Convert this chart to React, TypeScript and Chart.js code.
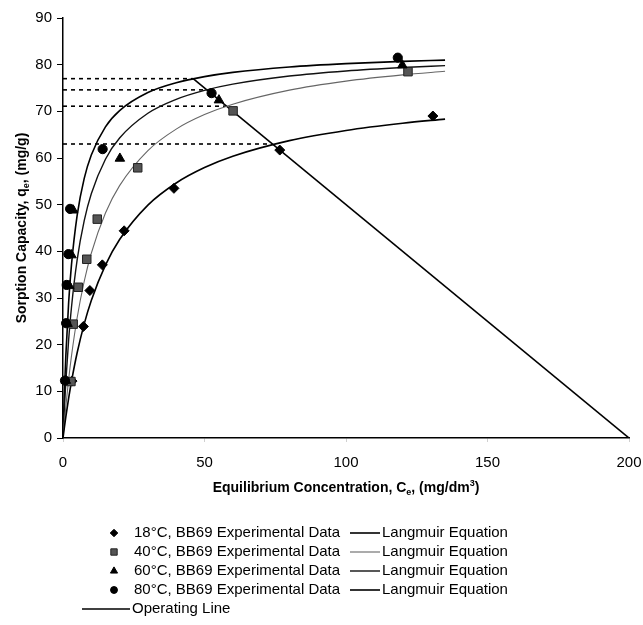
import React, { useEffect, useRef } from 'react';
import { Chart, registerables } from 'chart.js';

Chart.register(...registerables);

const FONT = '"Liberation Sans", Arial, Helvetica, sans-serif';

// Axis ranges / ticks
const xMin = 0;
const xMax = 200;
const xStep = 50;
const yMin = 0;
const yMax = 90;
const yStep = 10;

// Langmuir model curves (C in mg/dm3, q in mg/g)
const curveC = [0, 0.5, 1, 2, 3, 5, 7.5, 10, 15, 20, 30, 40, 50, 60, 80, 100, 120, 135];
const lang18 = [0, 2.33, 4.51, 8.53, 12.11, 18.26, 24.46, 29.47, 37.06, 42.53, 49.91, 54.65, 57.95, 60.38, 63.72, 65.91, 67.45, 68.34];
const lang40 = [0, 3.54, 6.8, 12.59, 17.59, 25.77, 33.59, 39.59, 48.2, 54.08, 61.59, 66.19, 69.3, 71.53, 74.54, 76.47, 77.81, 78.58];
const lang60 = [0, 6.49, 12.04, 21.04, 28.02, 38.15, 46.56, 52.33, 59.74, 64.28, 69.58, 72.57, 74.49, 75.82, 77.56, 78.65, 79.39, 79.8];
const lang80 = [0, 9.86, 17.64, 29.1, 37.16, 47.72, 55.63, 60.65, 66.68, 70.16, 74.03, 76.13, 77.44, 78.35, 79.51, 80.22, 80.7, 80.97];

// Experimental data
const exp18C = [3.2, 7.2, 9.5, 13.9, 21.6, 39.2, 76.6, 130.7];
const exp18Q = [12.2, 23.9, 31.6, 37.1, 44.4, 53.5, 61.7, 69.0];
const exp40C = [2.8, 3.6, 5.4, 8.4, 12.1, 26.4, 60.1, 121.9];
const exp40Q = [12.1, 24.4, 32.3, 38.3, 46.9, 57.9, 70.1, 78.5];
const exp60C = [1.0, 1.6, 2.2, 3.0, 3.6, 20.1, 55.1, 119.9];
const exp60Q = [12.3, 24.5, 32.6, 39.2, 48.8, 59.9, 72.4, 79.9];
const exp80C = [0.7, 1.1, 1.3, 1.9, 2.5, 14.0, 52.5, 118.3];
const exp80Q = [12.3, 24.6, 32.8, 39.4, 49.1, 61.9, 73.9, 81.5];

// Operating line and dashed read-off levels
const opLineC = [46, 200];
const opLineQ = [77.0, 0];
const dashLevelQ = [77.0, 74.6, 71.1, 63.0];
const dashEndC = [46, 50.8, 57.8, 74.0];

// Legend texts
const expLabels = [
  '18°C, BB69 Experimental Data',
  '40°C, BB69 Experimental Data',
  '60°C, BB69 Experimental Data',
  '80°C, BB69 Experimental Data',
];
const modelLabel = 'Langmuir Equation';
const opLabel = 'Operating Line';

const pts = (xs: number[], ys: number[]) => xs.map((x, i) => ({ x, y: ys[i] }));

const seriesStyle = [
  { marker: 'rectRot', radius: 5, fill: '#000', stroke: '#000', line: '#000', lw: 1.6 },
  { marker: 'rect', radius: 6, fill: '#555', stroke: '#222', line: '#666', lw: 1.1 },
  { marker: 'triangle', radius: 5.5, fill: '#000', stroke: '#000', line: '#111', lw: 1.4 },
  { marker: 'circle', radius: 4.6, fill: '#000', stroke: '#000', line: '#000', lw: 1.6 },
];

function drawMarker(ctx: CanvasRenderingContext2D, style: string, x: number, y: number, r: number, fill: string, stroke: string) {
  ctx.save();
  ctx.fillStyle = fill;
  ctx.strokeStyle = stroke;
  ctx.lineWidth = 1;
  ctx.beginPath();
  if (style === 'rectRot') {
    ctx.moveTo(x, y - r);
    ctx.lineTo(x + r, y);
    ctx.lineTo(x, y + r);
    ctx.lineTo(x - r, y);
    ctx.closePath();
  } else if (style === 'rect') {
    const s = r * Math.SQRT1_2;
    ctx.rect(x - s, y - s, 2 * s, 2 * s);
  } else if (style === 'triangle') {
    for (let i = 0; i < 3; i++) {
      const a = (i * 2 * Math.PI) / 3;
      const px = x + Math.sin(a) * r;
      const py = y - Math.cos(a) * r;
      if (i === 0) ctx.moveTo(px, py);
      else ctx.lineTo(px, py);
    }
    ctx.closePath();
  } else {
    ctx.arc(x, y, r, 0, Math.PI * 2);
  }
  ctx.fill();
  ctx.stroke();
  ctx.restore();
}

type Seg = { t: string; m?: 'sub' | 'sup' };

function drawRich(ctx: CanvasRenderingContext2D, segs: Seg[], size: number) {
  const normal = `bold ${size}px ${FONT}`;
  const small = `bold ${Math.round(size * 0.65)}px ${FONT}`;
  let total = 0;
  const widths = segs.map((s) => {
    ctx.font = s.m ? small : normal;
    const w = ctx.measureText(s.t).width;
    total += w;
    return w;
  });
  let x = -total / 2;
  segs.forEach((s, i) => {
    ctx.font = s.m ? small : normal;
    const dy = s.m === 'sub' ? size * 0.3 : s.m === 'sup' ? -size * 0.35 : 0;
    ctx.fillText(s.t, x, dy);
    x += widths[i];
  });
}

const annotationPlugin = {
  id: 'annotations',
  afterDraw(chart: any) {
    const ctx: CanvasRenderingContext2D = chart.ctx;
    const area = chart.chartArea;
    ctx.save();
    ctx.fillStyle = '#000';
    ctx.textBaseline = 'middle';
    ctx.textAlign = 'left';

    // Y title
    ctx.save();
    ctx.translate(22, (area.top + area.bottom) / 2);
    ctx.rotate(-Math.PI / 2);
    drawRich(ctx, [{ t: 'Sorption Capacity, q' }, { t: 'e', m: 'sub' }, { t: ', (mg/g)' }], 14);
    ctx.restore();

    // X title
    ctx.save();
    ctx.translate((area.left + area.right) / 2, 488);
    drawRich(
      ctx,
      [{ t: 'Equilibrium Concentration, C' }, { t: 'e', m: 'sub' }, { t: ', (mg/dm' }, { t: '3', m: 'sup' }, { t: ')' }],
      14
    );
    ctx.restore();

    // Legend
    const rowY = [533, 552, 571, 590];
    ctx.font = `15px ${FONT}`;
    expLabels.forEach((label, i) => {
      const st = seriesStyle[i];
      const y = rowY[i];
      drawMarker(ctx, st.marker, 114, y, st.radius * 0.75, st.fill, st.stroke);
      ctx.fillStyle = '#000';
      ctx.fillText(label, 134, y);
      ctx.save();
      ctx.strokeStyle = st.line;
      ctx.lineWidth = st.lw;
      ctx.beginPath();
      ctx.moveTo(350, y);
      ctx.lineTo(380, y);
      ctx.stroke();
      ctx.restore();
      ctx.fillText(modelLabel, 382, y);
    });
    const opY = 609;
    ctx.strokeStyle = '#000';
    ctx.lineWidth = 1.6;
    ctx.beginPath();
    ctx.moveTo(82, opY);
    ctx.lineTo(130, opY);
    ctx.stroke();
    ctx.fillText(opLabel, 132, opY);
    ctx.restore();
  },
};

export default function App() {
  const ref = useRef<HTMLCanvasElement | null>(null);

  useEffect(() => {
    document.body.style.margin = '0';
    if (!ref.current) return;

    const expSets = [
      [exp18C, exp18Q],
      [exp40C, exp40Q],
      [exp60C, exp60Q],
      [exp80C, exp80Q],
    ].map(([c, q], i) => ({
      type: 'scatter' as const,
      data: pts(c, q),
      pointStyle: seriesStyle[i].marker,
      pointRadius: seriesStyle[i].radius,
      pointBackgroundColor: seriesStyle[i].fill,
      pointBorderColor: seriesStyle[i].stroke,
      pointBorderWidth: 1,
      showLine: false,
      clip: false,
      order: 4 - i,
    }));

    const langSets = [lang18, lang40, lang60, lang80].map((q, i) => ({
      type: 'line' as const,
      data: pts(curveC, q),
      borderColor: seriesStyle[i].line,
      borderWidth: seriesStyle[i].lw,
      pointRadius: 0,
      cubicInterpolationMode: 'monotone' as const,
      fill: false,
      order: 10,
    }));

    const dashSets = dashLevelQ.map((q, i) => ({
      type: 'line' as const,
      data: [
        { x: 0, y: q },
        { x: dashEndC[i], y: q },
      ],
      borderColor: '#000',
      borderWidth: 1.6,
      borderDash: [4, 4],
      pointRadius: 0,
      fill: false,
      order: 12,
    }));

    const opSet = {
      type: 'line' as const,
      data: pts(opLineC, opLineQ),
      borderColor: '#000',
      borderWidth: 1.6,
      pointRadius: 0,
      fill: false,
      order: 11,
    };

    const chart = new Chart(ref.current, {
      type: 'scatter',
      data: { datasets: [...expSets, ...langSets, opSet, ...dashSets] as any },
      options: {
        animation: false,
        responsive: false,
        events: [],
        layout: { padding: { top: 18, right: 14, left: 0, bottom: 0 } },
        plugins: { legend: { display: false }, tooltip: { enabled: false }, title: { display: false } },
        scales: {
          x: {
            type: 'linear',
            min: xMin,
            max: xMax,
            afterFit: (s: any) => {
              s.height = 187;
              s.paddingLeft = 0;
              s.paddingRight = 0;
            },
            ticks: { stepSize: xStep, color: '#000', font: { family: FONT, size: 15 }, padding: 12, maxRotation: 0 },
            grid: { drawOnChartArea: false, drawTicks: true, tickLength: 4, color: '#d0d0d0' },
            border: { display: true, color: '#000', width: 1.5 },
          },
          y: {
            type: 'linear',
            min: yMin,
            max: yMax,
            afterFit: (s: any) => {
              s.width = 63;
              s.paddingTop = 0;
              s.paddingBottom = 0;
            },
            ticks: { stepSize: yStep, color: '#000', font: { family: FONT, size: 15 }, padding: 5 },
            grid: { drawOnChartArea: false, drawTicks: true, tickLength: 6, color: '#000' },
            border: { display: true, color: '#000', width: 1.5 },
          },
        },
      } as any,
      plugins: [annotationPlugin],
    });

    return () => chart.destroy();
  }, []);

  return (
    <div style={{ width: 643, height: 625, background: '#fff' }}>
      <canvas ref={ref} width={643} height={625} style={{ display: 'block' }} />
    </div>
  );
}
